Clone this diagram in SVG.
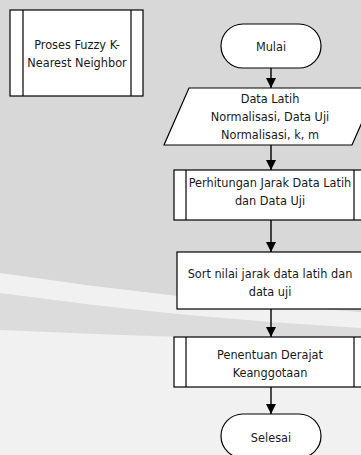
<svg xmlns="http://www.w3.org/2000/svg" width="361" height="455" viewBox="0 0 361 455">
  <defs>
    <style>
      .shape { fill: #ffffff; stroke: #000000; stroke-width: 1.2; }
      .bar { fill: none; stroke: #000000; stroke-width: 1.2; }
      .edge { fill: none; stroke: #000000; stroke-width: 1.4; }
      .label { font-family: "Liberation Sans Narrow", "DejaVu Sans Condensed", "Liberation Sans", sans-serif; font-size: 12.6px; fill: #1a1a1a; text-anchor: middle; }
    </style>
    <marker id="arrow" viewBox="0 0 10 10" refX="10" refY="5" markerWidth="10" markerHeight="10" markerUnits="userSpaceOnUse" orient="auto">
      <path d="M0,0 L10,5 L0,10 Z" fill="#000000"/>
    </marker>
  </defs>

  <!-- page background -->
  <g id="background">
    <rect x="0" y="0" width="361" height="455" fill="#f1f1f1"/>
    <path d="M0,0 H361 V312 Q180,300 0,273 Z" fill="#d8d8d8"/>
    <path d="M0,293 Q180,318 361,328 V342 Q180,338 0,330 Z" fill="#dcdcdc"/>
  </g>

  <!-- connectors -->
  <g id="connectors">
    <line class="edge" x1="271" y1="68" x2="271" y2="88" marker-end="url(#arrow)"/>
    <line class="edge" x1="271" y1="145" x2="271" y2="170" marker-end="url(#arrow)"/>
    <line class="edge" x1="271" y1="220" x2="271" y2="252" marker-end="url(#arrow)"/>
    <line class="edge" x1="271" y1="309" x2="271" y2="337" marker-end="url(#arrow)"/>
    <line class="edge" x1="271" y1="387" x2="271" y2="414" marker-end="url(#arrow)"/>
  </g>

  <!-- predefined process: title -->
  <g id="node-proses">
    <rect class="shape" x="10" y="10" width="133" height="86"/>
    <line class="bar" x1="23" y1="10" x2="23" y2="96" stroke="#555"/>
    <line class="bar" x1="131" y1="10" x2="131" y2="96" stroke="#555"/>
    <text class="label" x="77" y="49">Proses Fuzzy K-</text>
    <text class="label" x="77" y="67">Nearest Neighbor</text>
  </g>

  <!-- terminator: start -->
  <g id="node-mulai">
    <rect class="shape" x="221" y="24" width="100" height="44" rx="22" ry="22"/>
    <text class="label" x="271" y="51">Mulai</text>
  </g>

  <!-- input data -->
  <g id="node-input">
    <polygon class="shape" points="189,88 377,88 352,145 164,145"/>
    <text class="label" x="270" y="103">Data Latih</text>
    <text class="label" x="270" y="121">Normalisasi, Data Uji</text>
    <text class="label" x="270" y="139">Normalisasi, k, m</text>
  </g>

  <!-- predefined process: distance -->
  <g id="node-jarak">
    <rect class="shape" x="174" y="170" width="193" height="50"/>
    <line class="bar" x1="186" y1="170" x2="186" y2="220"/>
    <line class="bar" x1="354" y1="170" x2="354" y2="220"/>
    <text class="label" x="270" y="187">Perhitungan Jarak Data Latih</text>
    <text class="label" x="270" y="205">dan Data Uji</text>
  </g>

  <!-- process: sort -->
  <g id="node-sort">
    <rect class="shape" x="177" y="252" width="187" height="57"/>
    <text class="label" x="270" y="278">Sort nilai jarak data latih dan</text>
    <text class="label" x="270" y="296">data uji</text>
  </g>

  <!-- predefined process: membership -->
  <g id="node-derajat">
    <rect class="shape" x="174" y="337" width="193" height="50"/>
    <line class="bar" x1="186" y1="337" x2="186" y2="387"/>
    <line class="bar" x1="354" y1="337" x2="354" y2="387"/>
    <text class="label" x="270" y="359">Penentuan Derajat</text>
    <text class="label" x="270" y="377">Keanggotaan</text>
  </g>

  <!-- terminator: end -->
  <g id="node-selesai">
    <rect class="shape" x="221" y="414" width="100" height="44" rx="22" ry="22"/>
    <text class="label" x="271" y="442">Selesai</text>
  </g>
</svg>
